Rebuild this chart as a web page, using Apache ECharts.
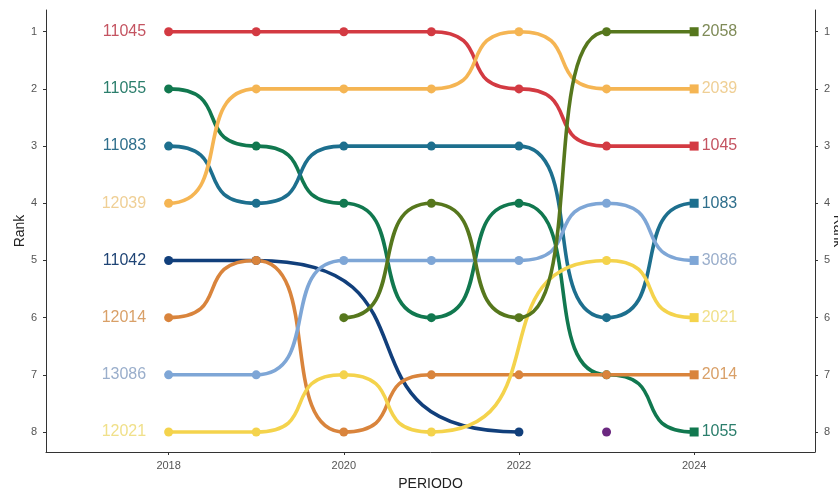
<!DOCTYPE html>
<html><head><meta charset="utf-8">
<script src="https://cdn.jsdelivr.net/npm/echarts@6/dist/echarts.min.js"></script>
<style>html,body{margin:0;padding:0;background:#fff}#c{width:838px;height:493px}</style>
</head><body><div id="c"></div>
<script>
const years = [2018, 2019, 2020, 2021, 2022, 2023, 2024];
const rankTicks = [1, 2, 3, 4, 5, 6, 7, 8];
const xTicks = [2018, 2020, 2022, 2024];

const teams = ['11045', '11055', '11083', '12039', '11042', '12014', '13086', '12021', '12058', 'other'];
const r11045 = [1, 1, 1, 1, 2, 3, 3];
const r11055 = [2, 3, 4, 6, 4, 7, 8];
const r11083 = [3, 4, 3, 3, 3, 6, 4];
const r12039 = [4, 2, 2, 2, 1, 2, 2];
const r11042 = [5, 5, null, null, 8, null, null];
const r12014 = [6, 5, 8, 7, 7, 7, 7];
const r13086 = [7, 7, 5, 5, 5, 4, 5];
const r12021 = [8, 8, 7, 8, null, 5, 6];
const r12058 = [null, null, 6, 4, 6, 1, 1];
const rOther = [null, null, null, null, null, 8, null];
const ranks = [r11045, r11055, r11083, r12039, r11042, r12014, r13086, r12021, r12058, rOther];

const leftLabels = ['11045', '11055', '11083', '12039', '11042', '12014', '13086', '12021', '', ''];
const rightLabels = ['1045', '1055', '1083', '2039', '', '2014', '3086', '2021', '2058', ''];

const colors = ['#d33a42', '#11784f', '#1d6f8e', '#f5b553', '#113f7b', '#d9843c', '#7ea6d6', '#f4d34c', '#56771d', '#6b2880'];
const labelColors = ['#c45461', '#2b7e6c', '#2f6f8c', '#efcf95', '#1f4475', '#d9a068', '#9aaecb', '#f0e08a', '#7f8b58', '#6b2880'];

const FONT = 'Liberation Sans, Arial, sans-serif';

function segments(arr) {
  const pts = [];
  arr.forEach((v, i) => { if (v !== null) pts.push([years[i], v]); });
  const segs = [];
  for (let i = 0; i + 1 < pts.length; i++) segs.push([pts[i][0], pts[i][1], pts[i + 1][0], pts[i + 1][1]]);
  return segs;
}

const series = [];
teams.forEach((t, k) => {
  const col = colors[k];
  series.push({
    type: 'custom', name: t + '_line', z: 2 + k * 0.01,
    data: segments(ranks[k]),
    renderItem: function (params, api) {
      const p0 = api.coord([api.value(0), api.value(1)]);
      const p1 = api.coord([api.value(2), api.value(3)]);
      const dx = (p1[0] - p0[0]) * 0.75;
      return {
        type: 'bezierCurve',
        shape: { x1: p0[0], y1: p0[1], x2: p1[0], y2: p1[1], cpx1: p0[0] + dx, cpy1: p0[1], cpx2: p1[0] - dx, cpy2: p1[1] },
        style: { stroke: col, lineWidth: 3.6, fill: null }
      };
    },
    silent: true
  });
});
teams.forEach((t, k) => {
  const col = colors[k];
  const data = [];
  ranks[k].forEach((v, i) => {
    if (v === null) return;
    const item = { value: [years[i], v] };
    if (i === 0 && leftLabels[k]) {
      item.label = { show: true, position: 'left', distance: 18, formatter: leftLabels[k], color: labelColors[k], fontSize: 16, fontFamily: FONT };
    }
    if (i === years.length - 1) {
      item.symbol = 'rect';
      item.symbolSize = 9;
      if (rightLabels[k]) item.label = { show: true, position: 'right', distance: 3, formatter: rightLabels[k], color: labelColors[k], fontSize: 16, fontFamily: FONT };
    }
    data.push(item);
  });
  series.push({
    type: 'scatter', name: t, z: 3,
    symbol: 'circle', symbolSize: 9,
    itemStyle: { color: col, opacity: 1 },
    data: data, silent: true, animation: false
  });
});

const axisLabelStyle = { color: '#555', fontSize: 11, fontFamily: FONT };
const yAxisCommon = {
  type: 'value', min: 0.62, max: 8.35, inverse: true, interval: 1,
  splitLine: { show: false },
  axisLine: { show: true, lineStyle: { color: '#333', width: 1 } },
  axisTick: { show: true, length: 3, lineStyle: { color: '#333' }, customValues: rankTicks },
  axisLabel: Object.assign({}, axisLabelStyle, { customValues: rankTicks, margin: 9 }),
  nameLocation: 'middle',
  nameMoveOverlap: false,
  nameTextStyle: { color: '#222', fontSize: 14, fontFamily: FONT }
};

const chart = echarts.init(document.getElementById('c'), null, { renderer: 'canvas' });
chart.setOption({
  animation: false,
  backgroundColor: '#fff',
  grid: { left: 46, right: 23, top: 10, bottom: 41, containLabel: false, outerBoundsMode: 'none' },
  xAxis: {
    type: 'value', min: 2016.6, max: 2025.38,
    splitLine: { show: false },
    axisLine: { show: true, onZero: false, lineStyle: { color: '#333', width: 1 } },
    axisTick: { show: true, length: 3, lineStyle: { color: '#333' }, customValues: xTicks },
    axisLabel: Object.assign({}, axisLabelStyle, { customValues: xTicks, margin: 8, formatter: v => String(v) }),
    name: 'PERIODO', nameLocation: 'middle', nameGap: 25, nameMoveOverlap: false,
    nameTextStyle: { color: '#222', fontSize: 14, fontFamily: FONT }
  },
  yAxis: [
    Object.assign({}, yAxisCommon, { position: 'left', name: 'Rank', nameGap: 19, nameRotate: 90 }),
    Object.assign({}, yAxisCommon, { position: 'right', name: 'Rank', nameGap: 16, nameRotate: -90 })
  ],
  series: series
});
</script></body></html>
